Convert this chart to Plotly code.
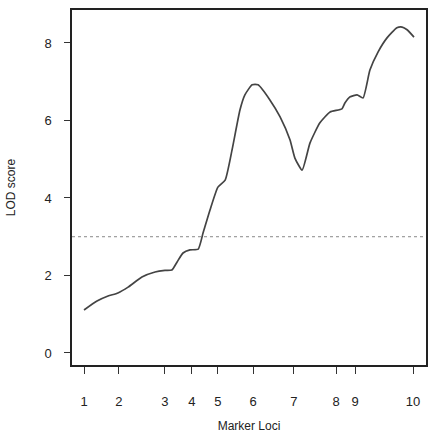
import plotly.graph_objects as go

# Marker loci positions (relative map units) and labels
loci_pos = [0, 10.6, 24.6, 32.8, 40.7, 51.4, 63.8, 76.6, 82.4, 100]
loci_labels = ["1", "2", "3", "4", "5", "6", "7", "8", "9", "10"]

# LOD score curve
pos = [0, 3.95, 7.3, 10.3, 13.4, 17.6, 21.6, 24.6, 26.7, 28.3, 30.1, 32.2, 34.7,
       36.2, 38.3, 40.7, 42.9, 45.0, 47.4, 48.9, 51.1, 52.9, 56.5, 59.6, 62.6,
       64.1, 66.3, 68.7, 71.7, 74.8, 78.4, 79.3, 80.9, 83.0, 84.8, 86.9, 89.4,
       92.1, 95.1, 96.7, 98.2, 100.3]
lod = [1.11, 1.34, 1.47, 1.55, 1.70, 1.96, 2.09, 2.13, 2.14, 2.35, 2.58, 2.66, 2.68,
       3.10, 3.69, 4.28, 4.46, 5.24, 6.27, 6.66, 6.92, 6.92, 6.53, 6.09, 5.50,
       5.03, 4.72, 5.42, 5.94, 6.22, 6.30, 6.45, 6.61, 6.66, 6.58, 7.30, 7.77,
       8.13, 8.39, 8.41, 8.34, 8.15]

threshold = 3.0

fig = go.Figure()
fig.add_trace(go.Scatter(x=[-3.65, 103.95], y=[threshold, threshold], mode="lines",
                         line=dict(color="#888888", width=1, dash="dot"),
                         hoverinfo="skip", showlegend=False))
fig.add_trace(go.Scatter(x=pos, y=lod, mode="lines",
                         line=dict(color="#444444", width=1.7, shape="spline", smoothing=0.5),
                         showlegend=False))

txt = "#222222"
font = dict(family="Liberation Sans, Arial, sans-serif", size=13, color=txt)
fig.update_layout(
    template="none",
    width=431, height=433,
    margin=dict(l=72, r=5, t=10, b=68),
    paper_bgcolor="white", plot_bgcolor="white",
    font=font,
    xaxis=dict(range=[-3.65, 103.95], tickmode="array", tickvals=loci_pos, ticktext=loci_labels,
               ticks="outside", ticklen=7, tickwidth=1, tickcolor="#333333",
               tickfont=dict(color=txt, size=13),
               showgrid=False, zeroline=False, showline=True, linecolor="#222222", linewidth=1.5,
               mirror=True, ticklabelstandoff=17,
               title=dict(text="Marker Loci", standoff=14, font=dict(size=12, color=txt))),
    yaxis=dict(range=[-0.31, 8.85], tickmode="array", tickvals=[0, 2, 4, 6, 8],
               ticks="outside", ticklen=6, tickwidth=1, tickcolor="#333333",
               tickfont=dict(color=txt, size=13),
               showgrid=False, zeroline=False, showline=True, linecolor="#222222", linewidth=1.5,
               mirror=True, ticklabelstandoff=10,
               title=dict(text="LOD score", standoff=26, font=dict(size=12, color=txt))),
)

fig.write_html("out.html")
